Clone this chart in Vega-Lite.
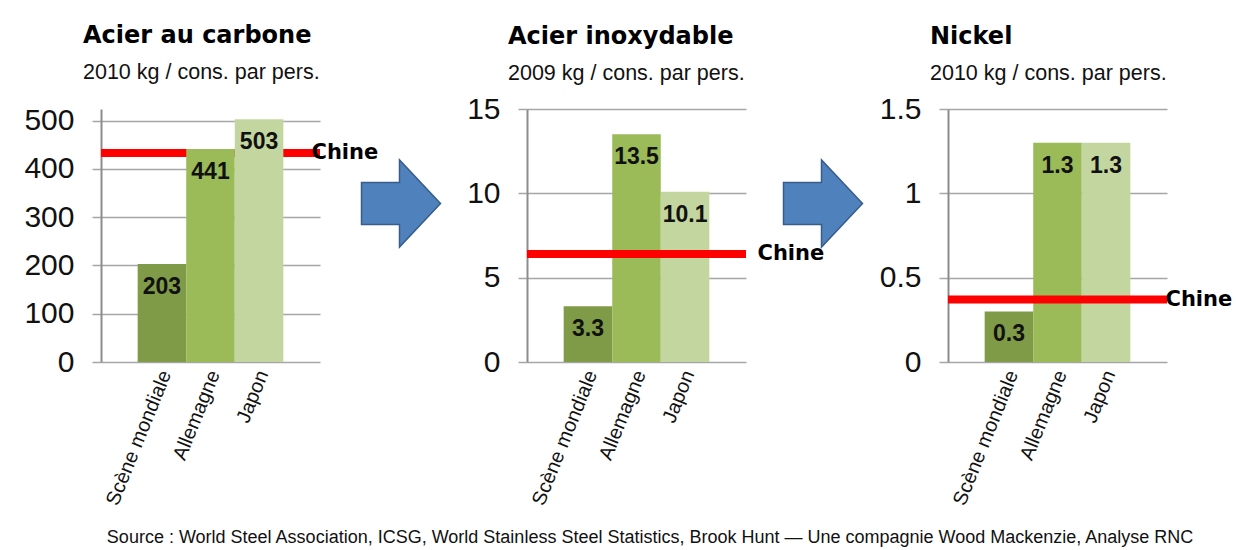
{
  "$schema": "https://vega.github.io/schema/vega-lite/v6.json",
  "background": "white",
  "padding": {"left": 23, "top": 24, "right": 0, "bottom": 0},
  "title": {
    "text": "Source : World Steel Association, ICSG, World Stainless Steel Statistics, Brook Hunt — Une compagnie Wood Mackenzie, Analyse RNC",
    "orient": "bottom",
    "anchor": "middle",
    "frame": "bounds",
    "font": "Liberation Sans",
    "fontWeight": "normal",
    "fontSize": 18,
    "color": "#111111",
    "dx": 22,
    "offset": 21
  },
  "config": {
    "view": {"stroke": null},
    "font": "Liberation Sans",
    "axis": {
      "labelFont": "Liberation Sans",
      "labelColor": "#111111",
      "gridColor": "#A6A6A6",
      "gridWidth": 1.5,
      "tickColor": "#A6A6A6",
      "tickWidth": 1.5,
      "domainColor": "#8C8C8C",
      "domainWidth": 2
    },
    "axisY": {"labelFontSize": 30, "tickSize": 9, "labelPadding": 18, "grid": true},
    "axisX": {"labelFontSize": 20, "labelAngle": -68, "labelOffset": 4, "domain": false, "ticks": false, "grid": false, "labelPadding": 9},
    "title": {
      "anchor": "start",
      "frame": "group",
      "font": "DejaVu Sans",
      "fontSize": 24,
      "fontWeight": "bold",
      "color": "#000000",
      "subtitleFont": "Liberation Sans",
      "subtitleFontSize": 21.5,
      "subtitleColor": "#111111",
      "subtitlePadding": 14
    }
  },
  "spacing": 0,
  "bounds": "flush",
  "hconcat": [
    {
      "width": 219,
      "height": 253,
      "title": {"text": "Acier au carbone", "subtitle": "2010 kg / cons. par pers.", "dx": -18, "offset": 22},
      "encoding": {
        "y": {"field": "valeur", "type": "quantitative", "title": null,
              "scale": {"domain": [0, 524], "nice": false, "zero": true},
              "axis": {"values": [0, 100, 200, 300, 400, 500], "format": "d"}}
      },
      "layer": [
        {
          "data": {"values": [{"pays": "Chine", "valeur": 433}]},
          "mark": {"type": "rule", "color": "#FF0000", "strokeWidth": 8},
          "encoding": {}
        },
        {
          "data": {"values": [
            {"pays": "Scène mondiale", "valeur": 203},
            {"pays": "Allemagne", "valeur": 441},
            {"pays": "Japon", "valeur": 503}
          ]},
          "encoding": {
            "x": {"field": "pays", "type": "nominal", "sort": null, "title": null,
                  "scale": {"domain": ["Scène mondiale", "Allemagne", "Japon"], "paddingInner": 0, "paddingOuter": 0.755}}
          },
          "layer": [
            {
              "mark": {"type": "bar"},
              "encoding": {
                "color": {"field": "pays", "type": "nominal", "legend": null,
                          "scale": {"domain": ["Scène mondiale", "Allemagne", "Japon"], "range": ["#7F9B48", "#9BBB59", "#C4D6A0"]}}
              }
            },
            {
              "mark": {"type": "text", "baseline": "alphabetic", "dy": 30, "font": "Liberation Sans", "fontWeight": "bold", "fontSize": 23, "color": "#111111"},
              "encoding": {"text": {"field": "valeur", "type": "quantitative", "format": "d"}}
            }
          ]
        },
        {
          "data": {"values": [{"pays": "Chine", "valeur": 433}]},
          "mark": {"type": "text", "align": "left", "baseline": "middle", "dx": 101, "font": "DejaVu Sans", "fontWeight": "bold", "fontSize": 21, "color": "#000000"},
          "encoding": {"text": {"field": "pays", "type": "nominal"}}
        }
      ]
    },
    {
      "width": 207,
      "height": 253,
      "data": {"values": [{"forme": "flèche"}]},
      "mark": {"type": "point", "shape": "M-62,-53L-24,-53L-24,-75.5L17,-32L-24,11.5L-24,-11L-62,-11Z", "size": 4, "filled": true, "fill": "#4F81BD", "stroke": "#385D8A", "strokeWidth": 1.5, "opacity": 1},
      "encoding": {}
    },
    {
      "width": 219,
      "height": 253,
      "title": {"text": "Acier inoxydable", "subtitle": "2009 kg / cons. par pers.", "dx": -19, "offset": 10},
      "encoding": {
        "y": {"field": "valeur", "type": "quantitative", "title": null,
              "scale": {"domain": [0, 15], "nice": false, "zero": true},
              "axis": {"values": [0, 5, 10, 15], "format": "d"}}
      },
      "layer": [
        {
          "data": {"values": [
            {"pays": "Scène mondiale", "valeur": 3.3},
            {"pays": "Allemagne", "valeur": 13.5},
            {"pays": "Japon", "valeur": 10.1}
          ]},
          "encoding": {
            "x": {"field": "pays", "type": "nominal", "sort": null, "title": null,
                  "scale": {"domain": ["Scène mondiale", "Allemagne", "Japon"], "paddingInner": 0, "paddingOuter": 0.755}}
          },
          "layer": [
            {
              "mark": {"type": "bar"},
              "encoding": {
                "color": {"field": "pays", "type": "nominal", "legend": null,
                          "scale": {"domain": ["Scène mondiale", "Allemagne", "Japon"], "range": ["#7F9B48", "#9BBB59", "#C4D6A0"]}}
              }
            },
            {
              "mark": {"type": "text", "baseline": "alphabetic", "dy": 30, "font": "Liberation Sans", "fontWeight": "bold", "fontSize": 23, "color": "#111111"},
              "encoding": {"text": {"field": "valeur", "type": "quantitative", "format": ".1f"}}
            }
          ]
        },
        {
          "data": {"values": [{"pays": "Chine", "valeur": 6.4}]},
          "mark": {"type": "rule", "color": "#FF0000", "strokeWidth": 8},
          "encoding": {}
        },
        {
          "data": {"values": [{"pays": "Chine", "valeur": 6.4}]},
          "mark": {"type": "text", "align": "left", "baseline": "middle", "dx": 121, "font": "DejaVu Sans", "fontWeight": "bold", "fontSize": 21, "color": "#000000"},
          "encoding": {"text": {"field": "pays", "type": "nominal"}}
        }
      ]
    },
    {
      "width": 202,
      "height": 253,
      "data": {"values": [{"forme": "flèche"}]},
      "mark": {"type": "point", "shape": "M-63.5,-53L-25.5,-53L-25.5,-75.5L15.5,-32L-25.5,11.5L-25.5,-11L-63.5,-11Z", "size": 4, "filled": true, "fill": "#4F81BD", "stroke": "#385D8A", "strokeWidth": 1.5, "opacity": 1},
      "encoding": {}
    },
    {
      "width": 219,
      "height": 253,
      "title": {"text": "Nickel", "subtitle": "2010 kg / cons. par pers.", "dx": -18, "offset": 10},
      "encoding": {
        "y": {"field": "valeur", "type": "quantitative", "title": null,
              "scale": {"domain": [0, 1.5], "nice": false, "zero": true},
              "axis": {"values": [0, 0.5, 1, 1.5], "format": "~g"}}
      },
      "layer": [
        {
          "data": {"values": [
            {"pays": "Scène mondiale", "valeur": 0.3},
            {"pays": "Allemagne", "valeur": 1.3},
            {"pays": "Japon", "valeur": 1.3}
          ]},
          "encoding": {
            "x": {"field": "pays", "type": "nominal", "sort": null, "title": null,
                  "scale": {"domain": ["Scène mondiale", "Allemagne", "Japon"], "paddingInner": 0, "paddingOuter": 0.755}}
          },
          "layer": [
            {
              "mark": {"type": "bar"},
              "encoding": {
                "color": {"field": "pays", "type": "nominal", "legend": null,
                          "scale": {"domain": ["Scène mondiale", "Allemagne", "Japon"], "range": ["#7F9B48", "#9BBB59", "#C4D6A0"]}}
              }
            },
            {
              "mark": {"type": "text", "baseline": "alphabetic", "dy": 30, "font": "Liberation Sans", "fontWeight": "bold", "fontSize": 23, "color": "#111111"},
              "encoding": {"text": {"field": "valeur", "type": "quantitative", "format": ".1f"}}
            }
          ]
        },
        {
          "data": {"values": [{"pays": "Chine", "valeur": 0.37}]},
          "mark": {"type": "rule", "color": "#FF0000", "strokeWidth": 8},
          "encoding": {}
        },
        {
          "data": {"values": [{"pays": "Chine", "valeur": 0.37}]},
          "mark": {"type": "text", "align": "left", "baseline": "middle", "dx": 108, "font": "DejaVu Sans", "fontWeight": "bold", "fontSize": 21, "color": "#000000"},
          "encoding": {"text": {"field": "pays", "type": "nominal"}}
        }
      ]
    }
  ]
}
